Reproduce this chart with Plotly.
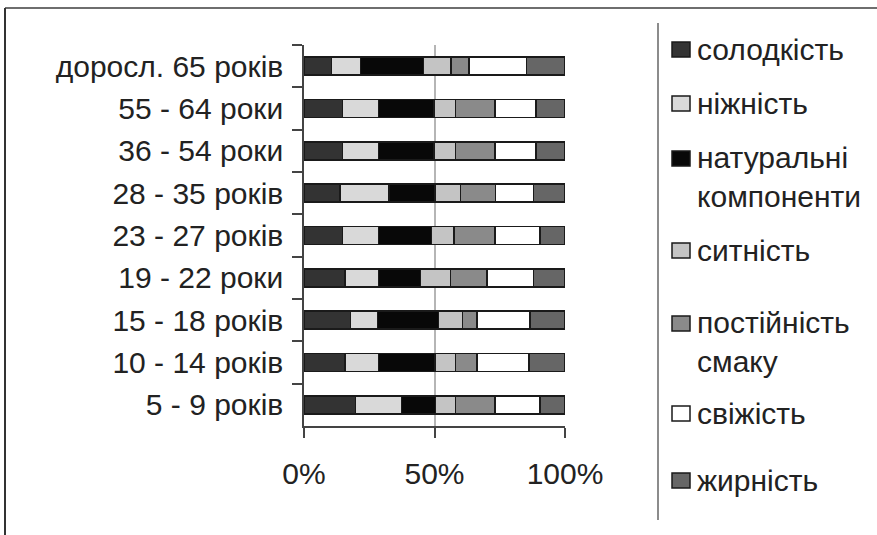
import plotly.graph_objects as go

categories = ["доросл. 65 років", "55 - 64 роки", "36 - 54 роки", "28 - 35 років",
              "23 - 27 років", "19 - 22 роки", "15 - 18 років", "10 - 14 років", "5 - 9 років"]

series_names = ["солодкість", "ніжність", "натуральні<br>компоненти", "ситність",
                "постійність<br>смаку", "свіжість", "жирність"]
series_colors = ["#333333", "#d9d9d9", "#080808", "#c4c4c4", "#8a8a8a", "#ffffff", "#666666"]

# shares (%) per category, top-to-bottom order of categories
solodkist = [10.6, 14.7, 14.7, 13.8, 14.7, 15.7, 17.9, 15.7, 19.8]
nizhnist = [11.1, 13.8, 13.8, 18.8, 13.8, 12.8, 10.2, 12.8, 17.6]
naturalni = [24.0, 21.3, 21.3, 17.6, 20.4, 16.2, 23.4, 21.7, 13.0]
sytnist = [10.6, 8.3, 8.3, 9.8, 8.6, 11.5, 9.2, 7.9, 7.7]
postiynist = [6.9, 15.1, 15.1, 13.4, 15.7, 14.0, 5.5, 8.1, 15.1]
svizhist = [22.1, 15.6, 15.6, 14.5, 17.2, 17.7, 20.4, 20.0, 17.2]
zhyrnist = [14.7, 11.2, 11.2, 12.1, 9.6, 12.1, 13.4, 13.8, 9.6]

series_values = [solodkist, nizhnist, naturalni, sytnist, postiynist, svizhist, zhyrnist]

x_tickvals = [0, 50, 100]
x_ticktext = ["0%", "50%", "100%"]

FONT = "Liberation Sans, Arial, sans-serif"

fig = go.Figure()
for name, color, vals in zip(series_names, series_colors, series_values):
    fig.add_trace(go.Bar(
        y=categories, x=vals, orientation="h", name=name.replace("<br>", " "),
        marker=dict(color=color, line=dict(color="#1a1a1a", width=1.5)),
        showlegend=False,
    ))

fig.update_layout(
    barmode="stack",
    barnorm="percent",
    bargap=0.575,
    width=877, height=535,
    margin=dict(l=304, r=312, t=45, b=109),
    paper_bgcolor="white", plot_bgcolor="white",
    font=dict(family=FONT, size=30, color="#222222"),
    xaxis=dict(
        range=[0, 100], tickvals=x_tickvals, ticktext=x_ticktext,
        showgrid=True, gridcolor="#b5b5b5", gridwidth=1.5,
        showline=True, linecolor="#444444", linewidth=1.5,
        ticks="outside", ticklen=10, tickcolor="#444444", tickwidth=1.5,
        tickfont=dict(size=30, family=FONT, color="#222222"),
        ticklabelstandoff=10,
        zeroline=False, fixedrange=True,
    ),
    yaxis=dict(
        autorange="reversed", type="category",
        showline=True, linecolor="#444444", linewidth=1.5,
        ticks="outside", ticklen=10, tickcolor="#444444", tickwidth=1.5,
        tickson="boundaries",
        tickfont=dict(size=30, family=FONT, color="#222222"),
        ticklabelstandoff=13,
        showgrid=False, zeroline=False, fixedrange=True,
    ),
)

# outer frame lines and legend separator
fig.add_shape(type="line", xref="x domain", yref="y domain",
              x0=-299 / 261, x1=573 / 261, y0=1 + 37 / 381, y1=1 + 37 / 381,
              line=dict(color="#6e6e6e", width=2))
fig.add_shape(type="line", xref="x domain", yref="y domain",
              x0=-299 / 261, x1=-299 / 261, y0=1 + 37 / 381, y1=-109 / 381,
              line=dict(color="#333333", width=2))
fig.add_shape(type="line", xref="x domain", yref="y domain",
              x0=354 / 261, x1=354 / 261, y0=1 + 22 / 381, y1=-94 / 381,
              line=dict(color="#8c8c8c", width=2))

# manual legend (Excel-like layout)
legend_y = [49, 103, 158, 250, 323, 413, 480]
for name, color, ly in zip(series_names, series_colors, legend_y):
    x0 = (672 - 304) / 261
    x1 = (690 - 304) / 261
    y0 = 1 - (ly - 7 - 45) / 381
    y1 = 1 - (ly + 8 - 45) / 381
    fig.add_shape(type="rect", xref="x domain", yref="y domain",
                  x0=x0, x1=x1, y0=y0, y1=y1,
                  fillcolor=color, line=dict(color="#1a1a1a", width=1.5))
    lines = name.split("<br>")
    fig.add_annotation(
        xref="x domain", yref="y domain",
        x=(695 - 304) / 261, y=1 - (ly - 45) / 381,
        text=name, showarrow=False, xanchor="left",
        yanchor="top" if len(lines) > 1 else "middle",
        yshift=19 if len(lines) > 1 else 0,
        align="left",
        font=dict(family=FONT, size=30, color="#222222"),
    )

fig.write_html("out.html")
